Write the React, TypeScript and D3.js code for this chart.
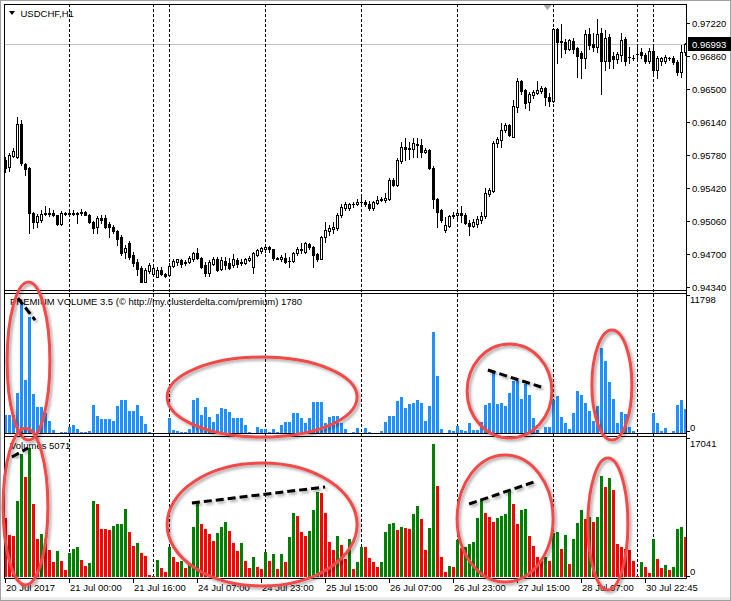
import React from "react";
import * as d3 from "d3";

const W = 731;
const H = 601;

const symbolTitle = "USDCHF,H1";
const premiumTitle = "PREMIUM VOLUME 3.5 (© http://my.clusterdelta.com/premium) 1780";
const volumeTitle = "Volumes 5071";

// [open, high, low, close] per H1 bar
const ohlc: [number, number, number, number][] = [
  [0.9573, 0.9576, 0.956, 0.9564], [0.9565, 0.958, 0.9561, 0.9578], [0.9577, 0.9586, 0.9576, 0.9582], [0.9576, 0.9619, 0.9575, 0.9612], [0.9612, 0.9616, 0.9567, 0.9569],
  [0.9568, 0.9569, 0.9556, 0.9563], [0.9564, 0.9565, 0.9493, 0.9515], [0.9515, 0.9516, 0.9498, 0.9505], [0.9505, 0.9514, 0.95, 0.9511], [0.9507, 0.9518, 0.9505, 0.9514],
  [0.9514, 0.9522, 0.9512, 0.9515], [0.9515, 0.952, 0.9511, 0.9514], [0.9515, 0.9518, 0.9511, 0.9512], [0.9512, 0.9513, 0.9502, 0.9503], [0.9503, 0.9517, 0.9502, 0.9515],
  [0.9515, 0.9516, 0.9512, 0.9514], [0.9514, 0.9518, 0.9513, 0.9515], [0.9515, 0.9518, 0.9513, 0.9514], [0.9514, 0.9516, 0.9504, 0.9515], [0.9515, 0.9519, 0.9513, 0.9516],
  [0.9516, 0.9517, 0.9512, 0.9513], [0.9513, 0.9514, 0.9504, 0.9505], [0.9505, 0.9506, 0.9493, 0.9498], [0.9499, 0.9511, 0.9493, 0.9509], [0.9509, 0.9512, 0.9504, 0.9507],
  [0.9509, 0.9512, 0.9498, 0.95], [0.9503, 0.9505, 0.9489, 0.95], [0.95, 0.9502, 0.9493, 0.9495], [0.9495, 0.9496, 0.948, 0.9486], [0.9489, 0.9491, 0.9469, 0.9471],
  [0.9472, 0.948, 0.9466, 0.9477], [0.9482, 0.9484, 0.9465, 0.9467], [0.9469, 0.9472, 0.9457, 0.946], [0.9461, 0.9464, 0.9447, 0.9454], [0.9455, 0.9457, 0.9439, 0.944],
  [0.944, 0.9455, 0.9439, 0.9453], [0.9451, 0.946, 0.9449, 0.9458], [0.9448, 0.9457, 0.9447, 0.9455], [0.9445, 0.9456, 0.9445, 0.9453], [0.9452, 0.9456, 0.9447, 0.9448],
  [0.9448, 0.9449, 0.9445, 0.9446], [0.9447, 0.946, 0.9446, 0.9457], [0.9457, 0.9465, 0.9456, 0.9462], [0.9461, 0.9465, 0.9458, 0.9464], [0.9463, 0.9465, 0.9456, 0.9459],
  [0.946, 0.9463, 0.9458, 0.9461], [0.9461, 0.9468, 0.946, 0.9466], [0.9465, 0.9472, 0.9462, 0.9471], [0.9471, 0.9477, 0.9464, 0.9466], [0.9466, 0.9467, 0.9455, 0.9456],
  [0.9458, 0.9461, 0.9446, 0.9449], [0.9449, 0.9463, 0.9446, 0.9461], [0.9459, 0.9467, 0.9458, 0.9465], [0.9465, 0.9467, 0.9451, 0.9453], [0.9454, 0.9467, 0.9453, 0.9463],
  [0.9462, 0.9467, 0.9454, 0.9458], [0.946, 0.9466, 0.9454, 0.9455], [0.9458, 0.947, 0.9456, 0.9464], [0.9463, 0.9466, 0.9456, 0.9459], [0.9461, 0.9465, 0.9458, 0.946],
  [0.946, 0.9466, 0.9459, 0.9464], [0.9463, 0.9468, 0.9462, 0.9466], [0.9456, 0.9472, 0.9449, 0.9471], [0.9469, 0.9476, 0.9468, 0.9474], [0.9473, 0.9478, 0.9471, 0.9477],
  [0.9475, 0.948, 0.9472, 0.9478], [0.9478, 0.9479, 0.9472, 0.9475], [0.9475, 0.9476, 0.9463, 0.9466], [0.9466, 0.9467, 0.9465, 0.9465], [0.9465, 0.9469, 0.9462, 0.9467],
  [0.9466, 0.9471, 0.946, 0.9461], [0.9462, 0.9467, 0.9456, 0.9462], [0.9462, 0.9472, 0.9461, 0.9471], [0.9471, 0.9478, 0.9469, 0.9476], [0.9474, 0.9482, 0.9471, 0.9475],
  [0.9472, 0.9483, 0.9471, 0.9482], [0.9481, 0.9482, 0.9475, 0.9478], [0.9478, 0.9479, 0.9456, 0.9469], [0.947, 0.9471, 0.9462, 0.9465], [0.9465, 0.949, 0.9464, 0.9489],
  [0.9489, 0.9505, 0.9483, 0.9496], [0.9495, 0.9502, 0.9491, 0.9498], [0.9497, 0.9505, 0.9493, 0.95], [0.9498, 0.9515, 0.9496, 0.9513], [0.9512, 0.9524, 0.951, 0.9521],
  [0.952, 0.9527, 0.9518, 0.9525], [0.952, 0.9526, 0.9518, 0.9524], [0.9524, 0.9527, 0.9521, 0.9525], [0.9525, 0.953, 0.9523, 0.9527], [0.9527, 0.9533, 0.9524, 0.9527],
  [0.9527, 0.9529, 0.9522, 0.9524], [0.9525, 0.9528, 0.9518, 0.952], [0.952, 0.9528, 0.9518, 0.9527], [0.9526, 0.9533, 0.9524, 0.9529], [0.9529, 0.9532, 0.9528, 0.953],
  [0.9529, 0.9536, 0.9527, 0.9531], [0.953, 0.9553, 0.9529, 0.9551], [0.9551, 0.9553, 0.9544, 0.9545], [0.9545, 0.9575, 0.9544, 0.9573], [0.9571, 0.9592, 0.9569, 0.9587],
  [0.9587, 0.9596, 0.9573, 0.9584], [0.9586, 0.9592, 0.9574, 0.9584], [0.9584, 0.9596, 0.9576, 0.9591], [0.9589, 0.9596, 0.9576, 0.959], [0.9589, 0.9595, 0.9576, 0.9581],
  [0.9581, 0.9586, 0.958, 0.9583], [0.9583, 0.9584, 0.9563, 0.9564], [0.9564, 0.9566, 0.952, 0.953], [0.953, 0.9531, 0.9499, 0.9516], [0.9518, 0.9519, 0.9505, 0.9507],
  [0.9496, 0.951, 0.9494, 0.9502], [0.9501, 0.9513, 0.95, 0.9511], [0.9511, 0.9516, 0.9509, 0.9512], [0.9512, 0.9518, 0.9509, 0.9515], [0.9515, 0.9522, 0.9505, 0.9512],
  [0.9513, 0.9515, 0.9503, 0.9504], [0.9504, 0.9507, 0.9491, 0.9501], [0.9501, 0.9508, 0.9499, 0.9505], [0.9503, 0.9511, 0.95, 0.9508], [0.9507, 0.9516, 0.9504, 0.9511],
  [0.9511, 0.9542, 0.9509, 0.9536], [0.9535, 0.9542, 0.9533, 0.954], [0.9539, 0.9593, 0.9538, 0.9591], [0.9591, 0.9598, 0.9587, 0.9595], [0.9594, 0.9613, 0.9587, 0.9605],
  [0.9605, 0.9613, 0.9603, 0.9611], [0.9611, 0.9612, 0.9599, 0.96], [0.9598, 0.9638, 0.9598, 0.9631], [0.963, 0.9662, 0.9625, 0.9659], [0.9659, 0.966, 0.9644, 0.9648],
  [0.9649, 0.965, 0.9629, 0.9635], [0.9636, 0.9647, 0.9627, 0.9644], [0.9643, 0.9649, 0.964, 0.9647], [0.9646, 0.9659, 0.9644, 0.9649], [0.9648, 0.9653, 0.9646, 0.9651],
  [0.9651, 0.9652, 0.9633, 0.9641], [0.9641, 0.9646, 0.9631, 0.9637], [0.9637, 0.9717, 0.9636, 0.9715], [0.9715, 0.9717, 0.9678, 0.9701], [0.9701, 0.9721, 0.9685, 0.9702],
  [0.9701, 0.9704, 0.9689, 0.9694], [0.9694, 0.9704, 0.9693, 0.9703], [0.9702, 0.9706, 0.9689, 0.9694], [0.9695, 0.9696, 0.9663, 0.9686], [0.9689, 0.9692, 0.9662, 0.9684],
  [0.9684, 0.9714, 0.9673, 0.971], [0.971, 0.9716, 0.9694, 0.9698], [0.9699, 0.9711, 0.9691, 0.9696], [0.9696, 0.9726, 0.969, 0.971], [0.9711, 0.9717, 0.9644, 0.9681],
  [0.9681, 0.9714, 0.9671, 0.9706], [0.9707, 0.971, 0.9673, 0.9681], [0.9686, 0.969, 0.9673, 0.9683], [0.9683, 0.969, 0.9678, 0.9688], [0.9687, 0.9711, 0.968, 0.9703],
  [0.9704, 0.9707, 0.9676, 0.968], [0.9685, 0.9696, 0.9678, 0.9685], [0.9684, 0.9687, 0.9682, 0.9684], [0.9688, 0.9696, 0.9684, 0.9688], [0.969, 0.9695, 0.9684, 0.9687],
  [0.9687, 0.9689, 0.9678, 0.968], [0.968, 0.9695, 0.9678, 0.9691], [0.9691, 0.9696, 0.9665, 0.9671], [0.9671, 0.9686, 0.9662, 0.9684], [0.9681, 0.9685, 0.9676, 0.9684],
  [0.9681, 0.9687, 0.9678, 0.9685], [0.9684, 0.9685, 0.9682, 0.9684], [0.9684, 0.9686, 0.9677, 0.9679], [0.9679, 0.9682, 0.9665, 0.9668], [0.9668, 0.9698, 0.9663, 0.969],
  [0.969, 0.97, 0.9687, 0.96993],
];

const premiumVolume = [
  1620, 1620, 1620, 3600, 11798, 4770, 10440, 3510, 2340, 2340,
  1800, 1080, 270, 0, 135, 135, 540, 720, 360, 135,
  135, 225, 2520, 1530, 1260, 1260, 1260, 1080, 2430, 2970,
  2970, 1980, 1980, 2520, 1530, 810, 135, 0, 0, 0,
  0, 1350, 270, 225, 135, 135, 360, 2970, 3150, 1620,
  2340, 1440, 990, 1710, 2250, 2160, 1890, 1350, 1350, 1350,
  720, 135, 0, 540, 360, 360, 135, 360, 135, 720,
  990, 990, 1800, 1800, 1350, 900, 1350, 2790, 2790, 2790,
  900, 1440, 1530, 1530, 900, 360, 0, 135, 450, 0,
  450, 90, 45, 45, 180, 990, 1530, 1530, 2880, 3240,
  2250, 2610, 2700, 2970, 2700, 1080, 2430, 9090, 5130, 360,
  0, 270, 180, 630, 270, 180, 900, 270, 270, 990,
  2520, 2700, 5400, 2610, 2700, 2430, 3600, 4680, 4680, 3060,
  4410, 3420, 1350, 315, 0, 540, 540, 2970, 3330, 1440,
  900, 360, 1800, 3780, 3420, 2700, 1980, 1080, 2430, 7650,
  6480, 4590, 3060, 900, 1890, 1710, 540, 180, 0, 0,
  0, 0, 1800, 900, 180, 450, 0, 180, 2520, 2970,
  2160,
];

const tickVolume = [
  7550, 5380, 5250, 9730, 15740, 12800, 16510, 9340, 4860, 5500,
  4860, 3460, 1920, 3330, 2050, 900, 3070, 3580, 3840, 2180,
  1410, 1790, 9730, 9340, 6140, 6100, 6060, 6530, 6780, 6800,
  8700, 5760, 3970, 4350, 3070, 2690, 300, 130, 2180, 1150,
  640, 3840, 2560, 1920, 1990, 1150, 1540, 6400, 9470, 6780,
  6140, 5500, 4610, 5630, 6400, 7040, 5890, 4350, 3330, 4350,
  2050, 1150, 2560, 1280, 1020, 3200, 2050, 2940, 1020, 2940,
  1920, 5120, 8190, 7810, 5760, 5250, 5890, 8580, 10880, 10800,
  8190, 4480, 3460, 5250, 4100, 2300, 4860, 1020, 1920, 3840,
  3800, 2430, 1920, 1280, 1920, 5760, 6780, 6910, 6020, 6400,
  6300, 6140, 8060, 9090, 7420, 3460, 6270, 17041, 11650, 2560,
  640, 1410, 1280, 4740, 3710, 3840, 4220, 4480, 7550, 9860,
  8190, 7680, 7040, 7550, 7810, 8060, 11140, 9340, 6780, 8580,
  8700, 5250, 3970, 2560, 2050, 2560, 2050, 5630, 5760, 3580,
  5380, 1660, 4860, 6910, 8580, 7420, 7680, 7040, 7680, 12930,
  11520, 12670, 11140, 4220, 3840, 3580, 3460, 2050, 130, 1920,
  1280, 510, 4860, 2300, 1150, 1540, 900, 1280, 6140, 6400,
  5120,
];

const timeLabels = [
  "20 Jul 2017", "21 Jul 00:00", "21 Jul 16:00", "24 Jul 07:00", "24 Jul 23:00", "25 Jul 15:00",
  "26 Jul 07:00", "26 Jul 23:00", "27 Jul 15:00", "28 Jul 07:00", "30 Jul 22:45",
];
const timeLabelBars = [0, 16, 32, 48, 64, 80, 96, 112, 128, 144, 160];
const separatorBars = [16, 37, 41, 65, 89, 113, 137, 158, 162];
const priceTicks = [0.9722, 0.9686, 0.965, 0.9614, 0.9578, 0.9542, 0.9506, 0.947, 0.9434];
const bidPrice = 0.96993;
const premiumMax = 11798;
const volumeMax = 17041;

// hand-drawn annotations, in bar-index / value units of each sub-window
const premiumEllipses = [
  { i0: 0.4, i1: 11.1, v0: -630, v1: 13590 },
  { i0: 40.4, i1: 87.9, v0: -360, v1: 6840 },
  { i0: 115.4, i1: 136.6, v0: -450, v1: 8010 },
  { i0: 146.6, i1: 156.6, v0: -630, v1: 9270 },
];
const volumeEllipses = [
  { i0: -0.6, i1: 10.6, v0: -1020, v1: 19070 },
  { i0: 40.4, i1: 87.9, v0: -1150, v1: 14600 },
  { i0: 112.9, i1: 136.9, v0: -640, v1: 15630 },
  { i0: 145.6, i1: 155.6, v0: -1660, v1: 15240 },
];
const premiumTrendLines = [
  { i0: 3.1, v0: 12150, i1: 7.4, v1: 10170 },
  { i0: 47.4, v0: 3060, i1: 81.1, v1: 3060 },
  { i0: 120.6, v0: 5670, i1: 133.9, v1: 4140 },
];
const volumeTrendLines = [
  { i0: 1.6, v0: 15370, i1: 5.6, v1: 16520 },
  { i0: 46.6, v0: 9480, i1: 79.9, v1: 11530 },
  { i0: 115.9, v0: 9350, i1: 132.1, v1: 12170 },
];

const FONT = "'Liberation Sans', Arial, sans-serif";
const FS = 9.5;

export default function App() {
  const left = 4, right = 686;
  const mainTop = 4, mainBottom = 290;
  const p1Top = 293, p1Bottom = 433;
  const p2Top = 436, p2Bottom = 578;

  const x = d3.scaleLinear().domain([0, 170]).range([5.5, 685.5]);
  const y = d3.scaleLinear().domain([0.9434, 0.9722]).range([287, 23]);
  const yp = d3.scaleLinear().domain([0, premiumMax]).range([433, 302]);
  const yv = d3.scaleLinear().domain([0, volumeMax]).range([577, 444]);

  const candles = ohlc.map(([o, h, l, c], i) => {
    const cx = x(i);
    const yo = Math.round(y(o)), yc = Math.round(y(c));
    const yh = Math.round(y(h)), yl = Math.round(y(l));
    const top = Math.min(yo, yc), bot = Math.max(yo, yc);
    let body;
    if (bot - top < 1) {
      body = <rect x={cx - 1.5} y={top} width={3} height={1} fill="#000" />;
    } else if (c > o) {
      body = <rect x={cx - 1} y={top + 0.5} width={2} height={bot - top} fill="#fff" stroke="#000" strokeWidth={1} />;
    } else {
      body = <rect x={cx - 1.5} y={top} width={3} height={bot - top + 1} fill="#000" />;
    }
    return (
      <g key={i}>
        <rect x={cx - 0.5} y={yh} width={1} height={yl - yh + 1} fill="#000" />
        {body}
      </g>
    );
  });

  const premBars = premiumVolume.map((v, i) => {
    if (v <= 0) return null;
    const t = Math.round(yp(v));
    return <rect key={i} x={x(i) - 1.5} y={t} width={3} height={Math.max(1, 433 - t)} fill="#1e90ff" />;
  });

  const volBars = tickVolume.map((v, i) => {
    if (v <= 0) return null;
    const t = Math.round(yv(v));
    const up = i > 0 && v > tickVolume[i - 1];
    return <rect key={i} x={x(i) - 1.5} y={t} width={3} height={Math.max(1, 577 - t)} fill={up ? "#008000" : "#ff0000"} />;
  });

  const ell = (e: { i0: number; i1: number; v0: number; v1: number }, ys: d3.ScaleLinear<number, number>, k: string) => {
    const xa = x(e.i0), xb = x(e.i1), ya = ys(e.v0), yb = ys(e.v1);
    return (
      <ellipse key={k} cx={(xa + xb) / 2} cy={(ya + yb) / 2} rx={Math.abs(xb - xa) / 2} ry={Math.abs(yb - ya) / 2}
        fill="none" stroke="#f24848" strokeWidth={3} filter="url(#shadow)" />
    );
  };
  const tl = (l: { i0: number; v0: number; i1: number; v1: number }, ys: d3.ScaleLinear<number, number>, k: string) => (
    <line key={k} x1={x(l.i0)} y1={ys(l.v0)} x2={x(l.i1)} y2={ys(l.v1)} stroke="#000" strokeWidth={3}
      strokeDasharray="8 4" filter="url(#shadow)" />
  );

  const yBid = Math.round(y(bidPrice)) + 0.5;

  return (
    <svg width={W} height={H} style={{ position: "absolute", left: 0, top: 0, display: "block", background: "#fff" }}
      fontFamily={FONT} fontSize={FS}>
      <defs>
        <clipPath id="plot"><rect x={left + 0.5} y={0} width={right - left} height={H} /></clipPath>
        <filter id="shadow" x="-20%" y="-20%" width="140%" height="140%">
          <feDropShadow dx="2" dy="2" stdDeviation="1.6" floodColor="#000" floodOpacity="0.35" />
        </filter>
      </defs>
      <rect x={0} y={0} width={W} height={H} fill="#fff" />
      <rect x={0.5} y={0.5} width={W - 1} height={H - 1} fill="none" stroke="#a0a0a0" />
      <rect x={1} y={H - 4} width={W - 2} height={3} fill="#ececec" />

      {/* bid line */}
      <line x1={left} x2={right} y1={yBid} y2={yBid} stroke="#c0c0c0" strokeWidth={1} />

      {/* day separators */}
      {separatorBars.map((b) => (
        <line key={b} x1={x(b)} x2={x(b)} y1={mainTop} y2={p2Bottom} stroke="#000" strokeWidth={1} strokeDasharray="3 2" />
      ))}

      <g clipPath="url(#plot)">
        {candles}
        {premBars}
        {volBars}
      </g>

      {/* frames */}
      <g stroke="#000" strokeWidth={1} fill="none">
        <line x1={left} x2={right + 1} y1={mainTop + 0.5} y2={mainTop + 0.5} />
        <line x1={left + 0.5} x2={left + 0.5} y1={mainTop} y2={p2Bottom + 1} />
        <line x1={right + 0.5} x2={right + 0.5} y1={mainTop} y2={p2Bottom + 1} />
        <line x1={left} x2={right + 1} y1={mainBottom + 0.5} y2={mainBottom + 0.5} />
        <line x1={left} x2={right + 1} y1={p1Top + 0.5} y2={p1Top + 0.5} />
        <line x1={left} x2={right + 1} y1={p1Bottom + 0.5} y2={p1Bottom + 0.5} />
        <line x1={left} x2={right + 1} y1={p2Top + 0.5} y2={p2Top + 0.5} />
        <line x1={left} x2={right + 1} y1={p2Bottom + 0.5} y2={p2Bottom + 0.5} />
      </g>

      {/* chart shift marker */}
      <path d={`M${x(135.5) - 4},${mainTop + 1} L${x(135.5) + 4},${mainTop + 1} L${x(135.5)},${mainTop + 6} Z`} fill="#a8a8a8" />

      {/* title */}
      <path d="M9,11 L15,11 L12,15 Z" fill="#000" />
      <text x={20.5} y={16.5} fill="#000">{symbolTitle}</text>

      {/* price axis */}
      {priceTicks.map((p) => (
        <g key={p}>
          <line x1={right + 1} x2={right + 4} y1={Math.round(y(p)) + 0.5} y2={Math.round(y(p)) + 0.5} stroke="#000" />
          <text x={692} y={Math.round(y(p)) + 3.5} fill="#000">{p.toFixed(5)}</text>
        </g>
      ))}
      <rect x={688} y={yBid - 7.5} width={43} height={14} fill="#000" />
      <text x={692} y={yBid + 3} fill="#fff">{bidPrice.toFixed(5)}</text>

      {/* sub-window labels */}
      <text x={10} y={305} fill="#000" textLength={292} lengthAdjust="spacingAndGlyphs">{premiumTitle}</text>
      <text x={690} y={302.5} fill="#000">{premiumMax}</text>
      <text x={690} y={430.5} fill="#000">0</text>
      <line x1={right + 1} x2={right + 4} y1={p1Top + 2.5} y2={p1Top + 2.5} stroke="#000" />
      <line x1={right + 1} x2={right + 4} y1={p1Bottom - 1.5} y2={p1Bottom - 1.5} stroke="#000" />

      <text x={10} y={449} fill="#000">{volumeTitle}</text>
      <text x={690} y={446.5} fill="#000">{volumeMax}</text>
      <text x={690} y={574.5} fill="#000">0</text>
      <line x1={right + 1} x2={right + 4} y1={p2Top + 2.5} y2={p2Top + 2.5} stroke="#000" />
      <line x1={right + 1} x2={right + 4} y1={p2Bottom - 1.5} y2={p2Bottom - 1.5} stroke="#000" />

      {/* time axis */}
      {timeLabelBars.map((b, k) => (
        <g key={b}>
          <line x1={x(b)} x2={x(b)} y1={p2Bottom + 1} y2={p2Bottom + 5} stroke="#000" />
          <text x={x(b) + 0.5} y={591} fill="#000">{timeLabels[k]}</text>
        </g>
      ))}

      {/* annotations */}
      {premiumEllipses.map((e, k) => ell(e, yp, "pe" + k))}
      {volumeEllipses.map((e, k) => ell(e, yv, "ve" + k))}
      {premiumTrendLines.map((l, k) => tl(l, yp, "pl" + k))}
      {volumeTrendLines.map((l, k) => tl(l, yv, "vl" + k))}
    </svg>
  );
}
